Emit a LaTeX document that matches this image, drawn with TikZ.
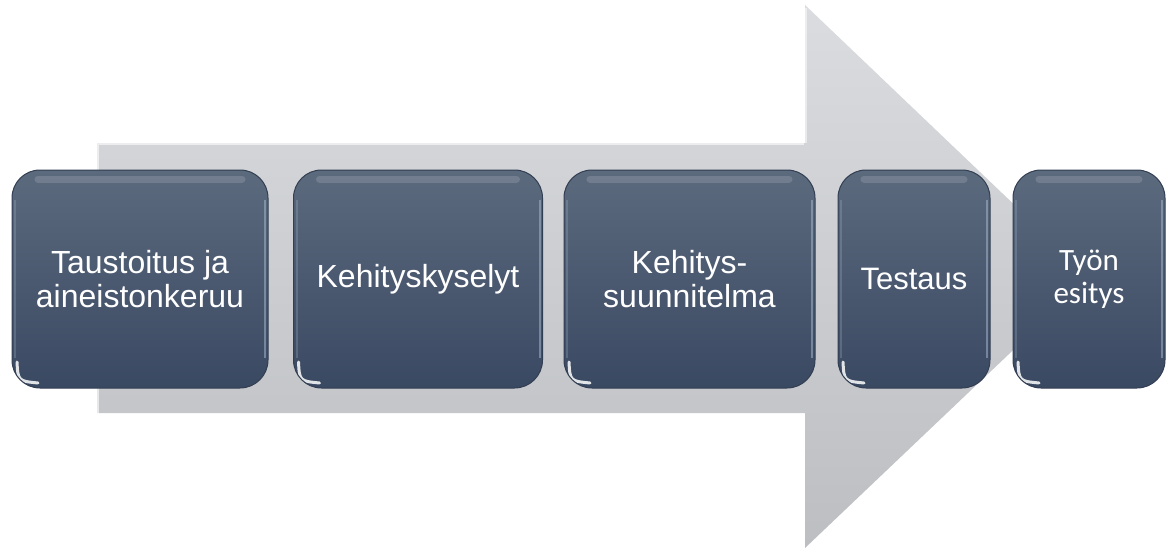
\documentclass[tikz,border=0pt]{standalone}
\usepackage{fontspec}
\setmainfont{Liberation Sans}
\newfontfamily\calfont{Carlito}
\begin{document}
\begin{tikzpicture}[x=1pt,y=-1pt,
  stage/.style={rounded corners=28pt, draw=boxedge, line width=1pt,
    top color=boxtop, bottom color=boxbot, text=white, align=center,
    inner sep=0pt, minimum height=218pt,
    font=\fontsize{32}{33.5}\selectfont,
    path picture={
      \draw[white, opacity=.14, line width=7pt, line cap=round]
        ([xshift=26pt,yshift=-9pt]path picture bounding box.north west) --
        ([xshift=-26pt,yshift=-9pt]path picture bounding box.north east);
      \draw[hl, opacity=.5, line width=2pt]
        ([xshift=-3pt,yshift=-30pt]path picture bounding box.north east) --
        ([xshift=-3pt,yshift=30pt]path picture bounding box.south east);
      \draw[hl, opacity=.25, line width=2pt]
        ([xshift=3pt,yshift=-30pt]path picture bounding box.north west) --
        ([xshift=3pt,yshift=30pt]path picture bounding box.south west);
      \draw[white, opacity=.85, line width=3pt, line cap=round]
        ([xshift=5pt,yshift=26pt]path picture bounding box.south west)
        .. controls ([xshift=6pt,yshift=7pt]path picture bounding box.south west)
        .. ([xshift=26pt,yshift=5pt]path picture bounding box.south west);
    }}
]
\definecolor{boxtop}{RGB}{92,106,126}
\definecolor{boxbot}{RGB}{58,73,98}
\definecolor{boxedge}{RGB}{50,62,82}
\definecolor{hl}{RGB}{170,190,210}
\definecolor{arrtop}{RGB}{218,220,223}
\definecolor{arrbot}{RGB}{188,190,194}
\useasboundingbox (0,0) rectangle (1168,551);
% big arrow
\shade[top color=arrtop, bottom color=arrbot]
  (97,143) -- (805,143) -- (805,5) -- (1090,277) -- (805,548) -- (805,413) -- (97,413) -- cycle;
\draw[white, opacity=.6, line width=2pt] (98,415) -- (98,144) -- (804,144);
\draw[white, opacity=.5, line width=1.5pt] (806,8) -- (806,143);
% stages
\node[stage, minimum width=256pt] (s1) at (140,279) {Taustoitus ja\\aineistonkeruu};
\node[stage, minimum width=249pt] (s2) at (418,279) {Kehityskyselyt};
\node[stage, minimum width=251pt] (s3) at (689.5,279) {Kehitys-\\suunnitelma};
\node[stage, minimum width=152pt, font=\fontsize{31}{33}\selectfont] (s4) at (914,279) {Testaus};
\node[stage, minimum width=152pt, font=\calfont\fontsize{31}{33}\selectfont] (s5) at (1089,279) {Työn\\esitys};
\end{tikzpicture}
\end{document}
